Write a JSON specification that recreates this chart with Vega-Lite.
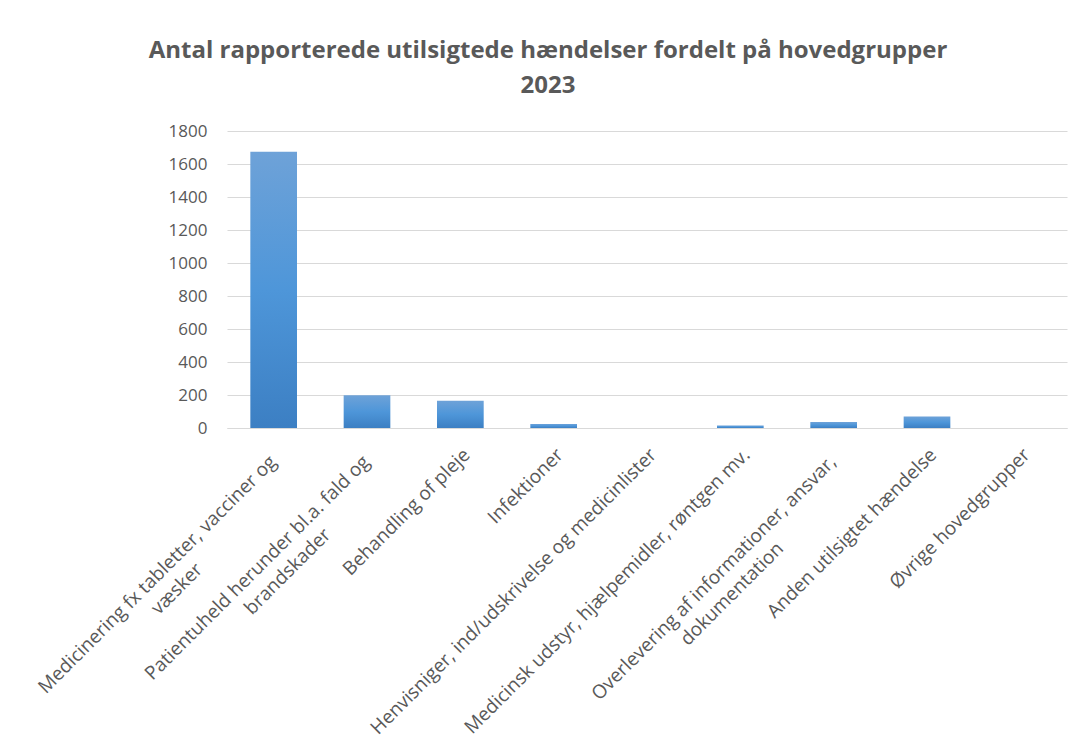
{
  "$schema": "https://vega.github.io/schema/vega-lite/v6.json",
  "autosize": {"type": "none"},
  "width": 840,
  "height": 297,
  "padding": {"left": 227, "top": 131, "right": 15, "bottom": 325},
  "background": "white",
  "title": {
    "text": ["Antal rapporterede utilsigtede hændelser fordelt på hovedgrupper", "2023"],
    "anchor": "middle",
    "dx": -99,
    "offset": 24,
    "lineHeight": 35,
    "font": "Open Sans",
    "fontSize": 24,
    "fontWeight": "bold",
    "color": "#595959"
  },
  "data": {
    "values": [
      {"gruppe": "Medicinering fx tabletter, vacciner og væsker", "antal": 1675},
      {"gruppe": "Patientuheld herunder bl.a. fald og brandskader", "antal": 198},
      {"gruppe": "Behandling of pleje", "antal": 165},
      {"gruppe": "Infektioner", "antal": 25},
      {"gruppe": "Henvisniger, ind/udskrivelse og medicinlister", "antal": 0},
      {"gruppe": "Medicinsk udstyr, hjælpemidler, røntgen mv.", "antal": 15},
      {"gruppe": "Overlevering af informationer, ansvar, dokumentation", "antal": 36},
      {"gruppe": "Anden utilsigtet hændelse", "antal": 70},
      {"gruppe": "Øvrige hovedgrupper", "antal": 0}
    ]
  },
  "mark": {
    "type": "bar",
    "color": {
      "gradient": "linear",
      "x1": 0, "y1": 0, "x2": 0, "y2": 1,
      "stops": [
        {"offset": 0, "color": "#6ea2d8"},
        {"offset": 0.5, "color": "#4e96d9"},
        {"offset": 1, "color": "#3c7fc3"}
      ]
    }
  },
  "encoding": {
    "x": {
      "field": "gruppe",
      "type": "nominal",
      "sort": null,
      "scale": {"paddingInner": 0.5, "paddingOuter": 0.25},
      "axis": {
        "title": null,
        "labelAngle": -45,
        "labelAlign": "right",
        "labelBaseline": "top",
        "labelFont": "Open Sans",
        "labelFontSize": 19,
        "labelColor": "#595959",
        "labelLineHeight": 24,
        "labelPadding": 17,
        "labelDx": 11,
        "labelLimit": 0,
        "labelOverlap": false,
        "ticks": false,
        "domainColor": "#d9d9d9",
        "labelExpr": "datum.value == 'Medicinering fx tabletter, vacciner og væsker' ? ['Medicinering fx tabletter, vacciner og\u00a0\u00a0\u200b', 'væsker\u00a0\u00a0\u00a0\u00a0\u00a0\u00a0\u00a0\u00a0\u00a0\u00a0\u00a0\u00a0\u00a0\u00a0\u00a0\u00a0\u00a0\u00a0\u00a0\u00a0\u00a0\u00a0\u00a0\u00a0\u00a0\u00a0\u00a0\u00a0\u200b'] : datum.value == 'Patientuheld herunder bl.a. fald og brandskader' ? ['Patientuheld herunder bl.a. fald og\u00a0\u00a0\u200b', 'brandskader\u00a0\u00a0\u00a0\u00a0\u00a0\u00a0\u00a0\u00a0\u00a0\u00a0\u00a0\u00a0\u00a0\u00a0\u00a0\u00a0\u00a0\u00a0\u200b'] : datum.value == 'Overlevering af informationer, ansvar, dokumentation' ? ['Overlevering af informationer, ansvar,\u00a0\u00a0\u200b', 'dokumentation\u00a0\u00a0\u00a0\u00a0\u00a0\u00a0\u00a0\u00a0\u00a0\u00a0\u00a0\u00a0\u00a0\u00a0\u00a0\u00a0\u00a0\u00a0\u00a0\u00a0\u00a0\u00a0\u200b'] : datum.value"
      }
    },
    "y": {
      "field": "antal",
      "type": "quantitative",
      "scale": {"domain": [0, 1800], "nice": false},
      "axis": {
        "title": null,
        "values": [0, 200, 400, 600, 800, 1000, 1200, 1400, 1600, 1800],
        "format": "d",
        "domain": false,
        "ticks": false,
        "labelPadding": 20,
        "labelFont": "Open Sans",
        "labelFontSize": 17,
        "labelColor": "#595959",
        "gridColor": "#d9d9d9",
        "gridWidth": 1
      }
    }
  },
  "config": {
    "view": {"stroke": null}
  }
}
